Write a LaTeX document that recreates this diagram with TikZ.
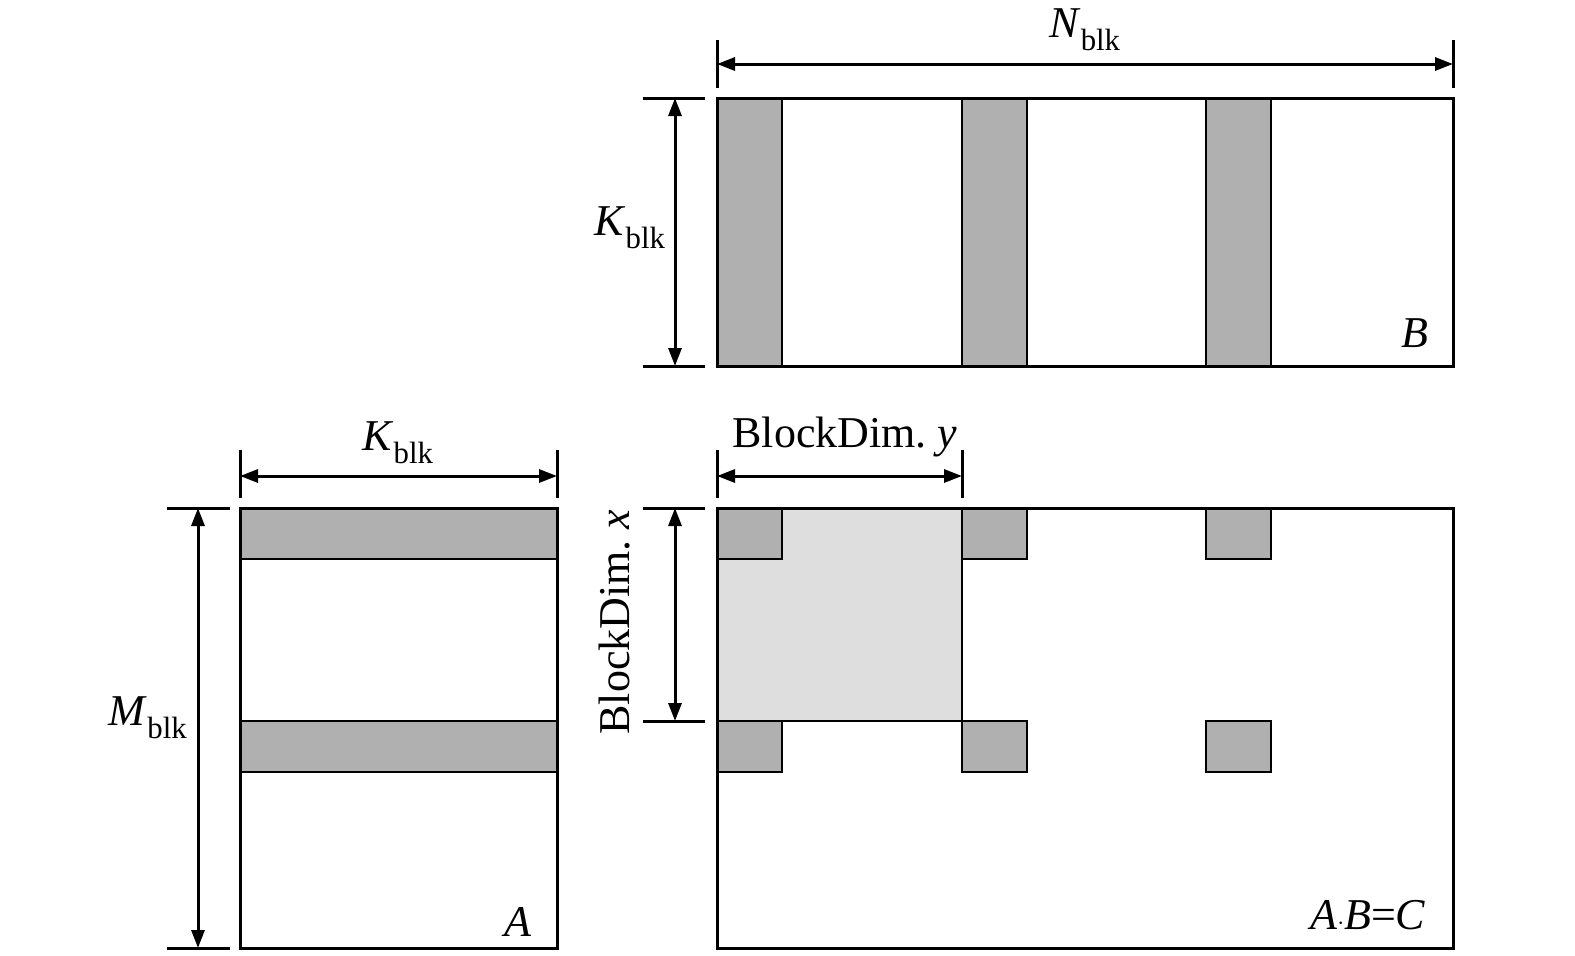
\documentclass[tikz,border=0pt]{standalone}
\usepackage{fontspec}
\setmainfont{Liberation Serif}
\usetikzlibrary{arrows.meta}
\begin{document}
\begin{tikzpicture}[x=1pt,y=-1pt,
  box/.style={draw,line width=3pt},
  dk/.style={draw,line width=1.5pt,fill=black!31},
  lt/.style={draw,line width=1.5pt,fill=black!13},
  tick/.style={line width=3pt},
  dim/.style={line width=3pt,{Triangle[length=18pt,width=13pt]}-{Triangle[length=18pt,width=13pt]}},
  lab/.style={font=\fontsize{44}{50}\selectfont,inner sep=0pt}]
\useasboundingbox (0,0) rectangle (1575,956);
% B
\fill[dk] (717,98) rectangle (782,366);
\fill[dk] (962,98) rectangle (1027,366);
\fill[dk] (1206,98) rectangle (1271,366);
\draw[box] (717,98) rectangle (1453,366);
\node[lab] (lB) at (1415,333) {\textit{B}};
% N_blk
\coordinate (n1) at (717,64); \coordinate (n2) at (1453,64);
\draw[tick] (717,40)--(717,88) (1453,40)--(1453,88);
\draw[dim] (n1)--(n2);
\node[lab] (lN) at (1085,30) {\textit{N}\textsubscript{blk}};
% K_blk left of B
\draw[tick] (643,98)--(705,98) (643,366)--(705,366);
\coordinate (k1) at (675,98); \coordinate (k2) at (675,366);
\draw[dim] (k1)--(k2);
\node[lab] (lK1) at (630,228) {\textit{K}\textsubscript{blk}};
% A
\draw[dk] (240,508) rectangle (557,559);
\draw[dk] (240,721) rectangle (557,772);
\draw[box] (240,508) rectangle (557,948);
\node[lab] (lA) at (518,922) {\textit{A}};
\draw[tick] (240,450)--(240,498) (557,450)--(557,498);
\coordinate (a1) at (240,476); \coordinate (a2) at (557,476);
\draw[dim] (a1)--(a2);
\node[lab] (lK2) at (398,443) {\textit{K}\textsubscript{blk}};
\draw[tick] (167,508)--(230,508) (167,948)--(230,948);
\coordinate (m1) at (198,508); \coordinate (m2) at (198,948);
\draw[dim] (m1)--(m2);
\node[lab] (lM) at (148,718) {\textit{M}\textsubscript{blk}};
% C
\draw[lt] (717,508) rectangle (962,721);
\foreach \x in {717,962,1206}{
  \draw[dk] (\x,508) rectangle ++(65,51);
  \draw[dk] (\x,721) rectangle ++(65,51);
}
\draw[box] (717,508) rectangle (1453,948);
\node[lab] (lC) at (1368,915) {\textit{A}$\cdot$\textit{B}=\textit{C}};
\draw[tick] (717,450)--(717,498) (962,450)--(962,498);
\coordinate (y1) at (717,476); \coordinate (y2) at (962,476);
\draw[dim] (y1)--(y2);
\node[lab] (lY) at (845,437) {BlockDim.~\textit{y}};
\draw[tick] (643,508)--(705,508) (643,721)--(705,721);
\coordinate (x1) at (675,508); \coordinate (x2) at (675,721);
\draw[dim] (x1)--(x2);
\node[lab,rotate=90] (lX) at (615,622) {BlockDim.~\textit{x}};
\end{tikzpicture}
\end{document}
